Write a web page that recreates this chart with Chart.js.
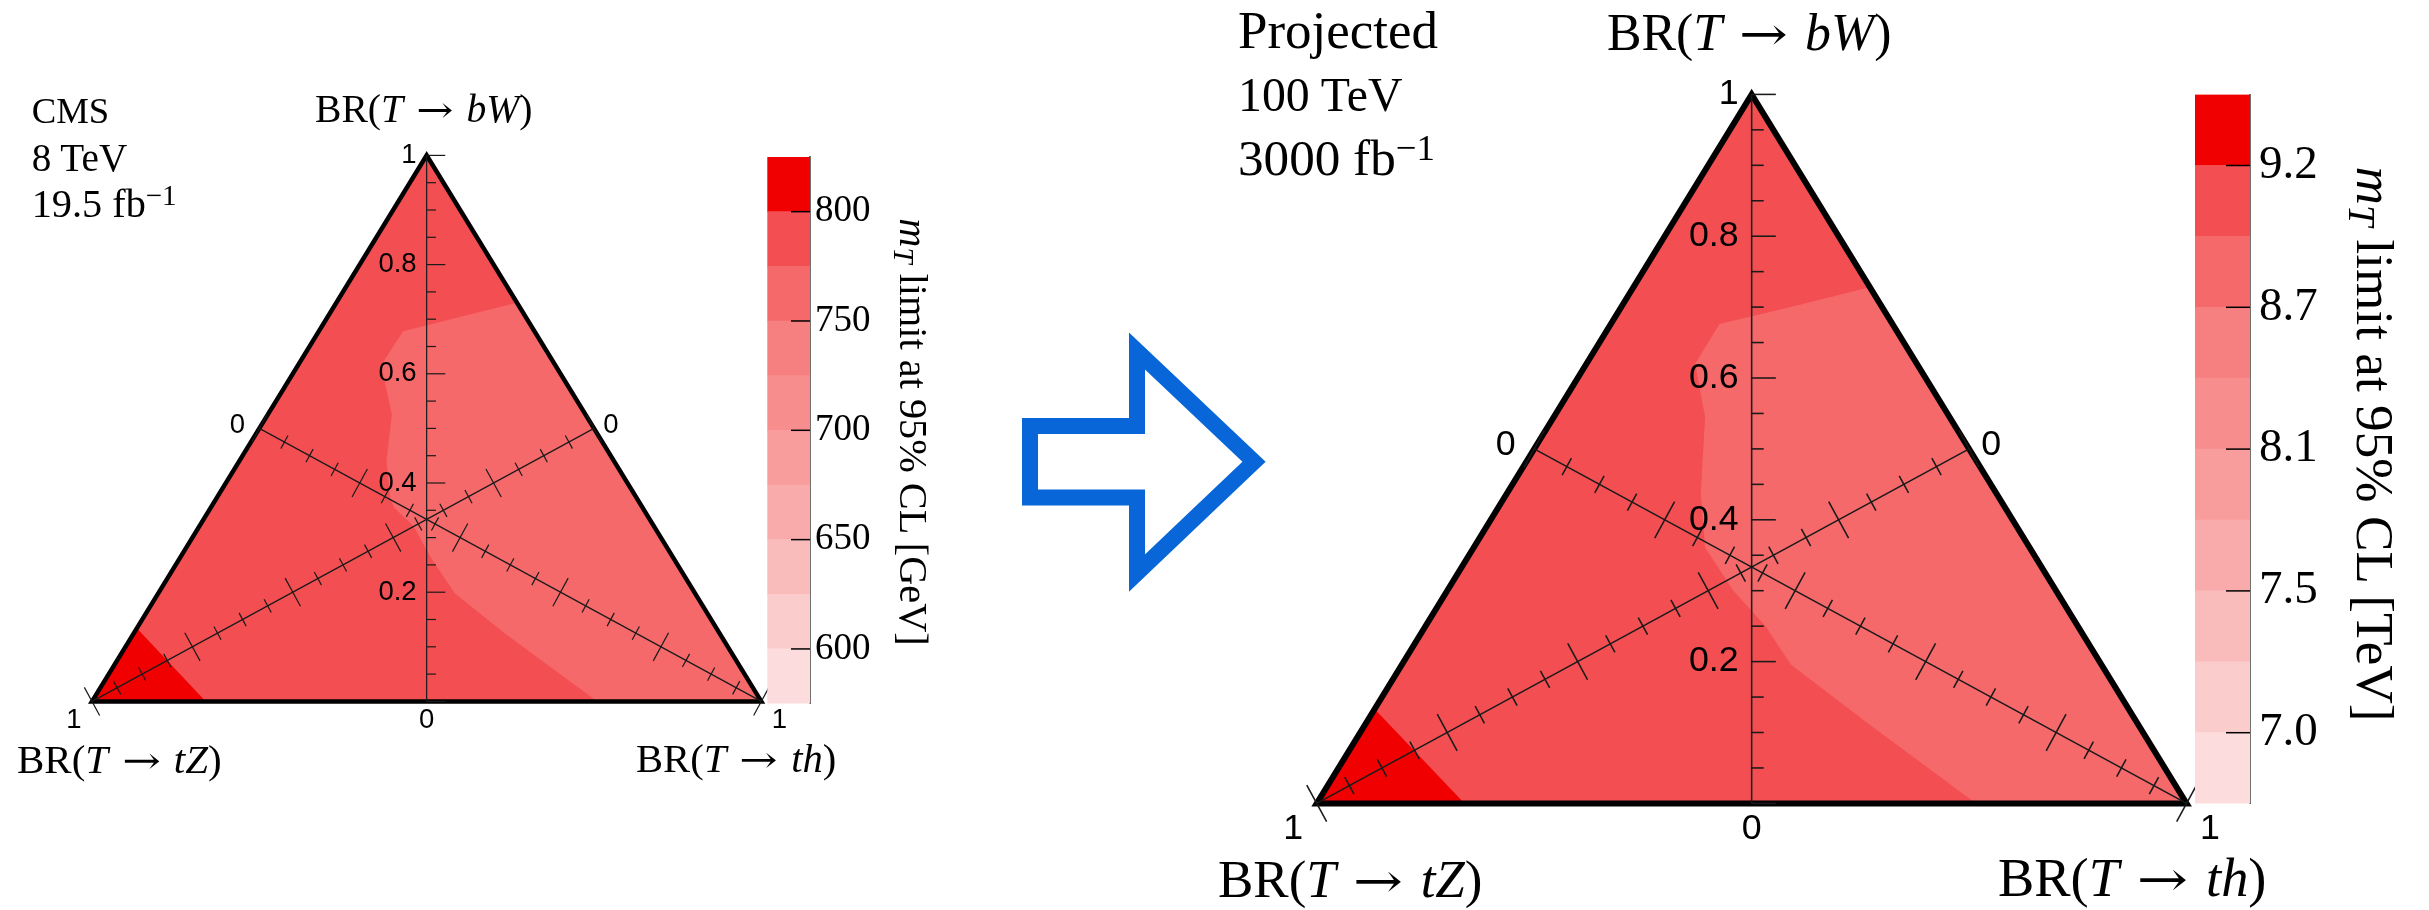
<!DOCTYPE html>
<html>
<head>
<meta charset="utf-8">
<script src="https://cdn.jsdelivr.net/npm/chart.js@4.4.1/dist/chart.umd.min.js"></script>
<style>
  html, body { margin: 0; padding: 0; background: #fff; }
  #stage { position: relative; width: 2429px; height: 910px; overflow: hidden; background: #fff; }
  #stage canvas { position: absolute; left: 0; top: 0; }
  .t { position: absolute; white-space: nowrap; line-height: 1; font-family: "Liberation Serif", "DejaVu Serif", serif; color: #000; }
  .sup { position: relative; top: -0.42em; font-size: 0.72em; }
  .sub { position: relative; top: 0.2em; font-size: 0.72em; }
  .ar { display: inline-block; width: 1.6em; text-align: center; }
  .ar span { display: inline-block; font-family: "DejaVu Serif", serif; font-size: 0.9em; transform: scaleX(1.25); }
  .rot { transform: translate(-50%, -50%) rotate(90deg); }
  svg { position: absolute; left: 0; top: 0; }
</style>
</head>
<body>
<div id="stage">
  <canvas id="tri8" width="2429" height="910"></canvas>
  <canvas id="bar8" width="2429" height="910"></canvas>
  <canvas id="tri100" width="2429" height="910"></canvas>
  <canvas id="bar100" width="2429" height="910"></canvas>
  <svg width="2429" height="910">
    <path d="M1030,426 L1137,426 L1137,351 L1254,461.7 L1137,573 L1137,497.5 L1030,497.5 Z"
          fill="none" stroke="#0866d8" stroke-width="16" stroke-linejoin="miter"/>
  </svg>
</div>
<script>
// Ternary points are [BR(T->bW), BR(T->tZ), BR(T->th)]
const triangleVertices = [[1, 0, 0], [0, 1, 0], [0, 0, 1]];

// Colour levels of the mass-limit contours, lowest to highest
const bandColors = ['#fcdcdc', '#fbcccc', '#fabbbb', '#f9abab', '#f89c9c',
                    '#f78d8d', '#f67f7f', '#f5696b', '#f34f52', '#f00000'];

// 8 TeV, 19.5 fb^-1 : colour scale in GeV
const bandEdges8 = [575, 600, 625, 650, 675, 700, 725, 750, 775, 800, 825];
const tickValues8 = [600, 650, 700, 750, 800];
const tickLabels8 = ['600', '650', '700', '750', '800'];
const plateauLevel8 = 8;                 // 775-800 GeV everywhere else
const band750Level8 = 7;                 // 750-775 GeV
const band750Region8 = [
  [0.730, 0.000, 0.270], [0.707, 0.088, 0.205], [0.678, 0.196, 0.126],
  [0.616, 0.260, 0.124], [0.526, 0.289, 0.185], [0.440, 0.340, 0.220],
  [0.370, 0.369, 0.261], [0.354, 0.371, 0.275], [0.321, 0.359, 0.320],
  [0.260, 0.362, 0.378], [0.198, 0.359, 0.443], [0.125, 0.321, 0.554],
  [0.059, 0.281, 0.660], [0.000, 0.245, 0.755], [0.000, 0.000, 1.000]
];
const band800Level8 = 9;                 // 800-825 GeV
const band800Region8 = [[0.000, 1.000, 0.000], [0.134, 0.866, 0.000], [0.000, 0.830, 0.170]];

// Projected 100 TeV, 3000 fb^-1 : colour scale in TeV (same contour levels)
const bandEdges100 = [575, 600, 625, 650, 675, 700, 725, 750, 775, 800, 825];
const tickValues100 = [600, 650, 700, 750, 800];
const tickLabels100 = ['7.0', '7.5', '8.1', '8.7', '9.2'];
const plateauLevel100 = 8;
const band2Level100 = 7;
const band2Region100 = [
  [0.728, 0.000, 0.272], [0.700, 0.105, 0.195], [0.676, 0.199, 0.125],
  [0.620, 0.255, 0.125], [0.545, 0.281, 0.174], [0.437, 0.340, 0.223],
  [0.361, 0.373, 0.266], [0.300, 0.371, 0.329], [0.250, 0.359, 0.391],
  [0.196, 0.357, 0.447], [0.113, 0.310, 0.577], [0.000, 0.242, 0.758],
  [0.000, 0.000, 1.000]
];
const topLevel100 = 9;
const topRegion100 = [[0.000, 1.000, 0.000], [0.133, 0.867, 0.000], [0.000, 0.830, 0.170]];

// Axis ticks drawn inside the triangle
const bWTickValues = [0.2, 0.4, 0.6, 0.8, 1];
const bWTickLabels = ['0.2', '0.4', '0.6', '0.8', '1'];

// ---------------------------------------------------------------------------
// projection: horizontal = BR(th) - BR(tZ), vertical = BR(bW)
function toXY(p) { return { x: p[2] - p[1], y: p[0] }; }
function closedPath(points) { const a = points.map(toXY); a.push(a[0]); return a; }

function regionDataset(points, level, order) {
  return {
    data: closedPath(points), showLine: true, fill: 'shape',
    backgroundColor: bandColors[level], borderColor: 'rgba(0,0,0,0)', borderWidth: 0,
    pointRadius: 0, order: order
  };
}

// Frame: BR(bW) axis, the two diagonal BR axes and their labels
const ternaryFrame = {
  id: 'ternaryFrame',
  afterDatasetsDraw(chart, args, opts) {
    const k = opts.k;
    const xs = chart.scales.x, ys = chart.scales.y;
    const px = (b) => [xs.getPixelForValue(b[2] - b[1]), ys.getPixelForValue(b[0])];
    const ctx = chart.ctx;
    const seg = (x1, y1, x2, y2) => { ctx.beginPath(); ctx.moveTo(x1, y1); ctx.lineTo(x2, y2); ctx.stroke(); };
    ctx.save();
    ctx.strokeStyle = '#1a1a1a';
    ctx.lineWidth = 1.2 * k;

    // vertical BR(bW) axis, ticks to the right
    const [x0, yBase] = px([0, 0.5, 0.5]);
    const [, yTop] = px([1, 0, 0]);
    seg(x0, yBase, x0, yTop);
    for (let i = 0; i <= 20; i++) {
      const y = ys.getPixelForValue(i / 20);
      const len = (i % 4 === 0 ? 18.6 : 9.3) * k;
      seg(x0, y, x0 + len, y);
    }

    // diagonal axes: BR(tZ) runs to the lower-left corner, BR(th) to the lower-right
    const diagonals = [
      { from: [0.5, 0, 0.5], to: [0, 1, 0] },
      { from: [0.5, 0.5, 0], to: [0, 0, 1] }
    ];
    for (const d of diagonals) {
      const [sx, sy] = px(d.from), [ex, ey] = px(d.to);
      seg(sx, sy, ex, ey);
      const L = Math.hypot(ex - sx, ey - sy);
      const nx = -(ey - sy) / L, ny = (ex - sx) / L;
      for (let i = 0; i <= 20; i++) {
        const qx = sx + (ex - sx) * i / 20, qy = sy + (ey - sy) * i / 20;
        const h = (i % 4 === 0 ? 16 : 7.5) * k;
        seg(qx - nx * h, qy - ny * h, qx + nx * h, qy + ny * h);
      }
    }

    // labels
    ctx.fillStyle = '#000';
    ctx.font = (27.5 * k) + 'px "Liberation Sans", Arial, sans-serif';
    ctx.textAlign = 'right';
    ctx.textBaseline = 'middle';
    bWTickValues.forEach((v, i) => {
      ctx.fillText(bWTickLabels[i], x0 - 10 * k, ys.getPixelForValue(v));
    });
    ctx.textAlign = 'center';
    const [lmx, lmy] = px([0.5, 0.5, 0]);
    const [rmx, rmy] = px([0.5, 0, 0.5]);
    const [blx, bly] = px([0, 1, 0]);
    const [brx, bry] = px([0, 0, 1]);
    ctx.fillText('0', lmx - 22 * k, lmy - 3 * k);
    ctx.fillText('0', rmx + 17 * k, rmy - 3 * k);
    ctx.fillText('0', x0, yBase + 19.5 * k);
    ctx.fillText('1', blx - 18 * k, bly + 19.5 * k);
    ctx.fillText('1', brx + 18 * k, bry + 19.5 * k);
    ctx.restore();
  }
};

function makeTernary(id, pad, k, outlineWidth, regions) {
  const outline = [[0, 0.5, 0.5], [0, 0, 1], [1, 0, 0], [0, 1, 0], [0, 0.5, 0.5]].map(toXY);
  const datasets = [{
    data: outline, showLine: true, fill: false, borderColor: '#000',
    borderWidth: outlineWidth, borderJoinStyle: 'miter', pointRadius: 0, clip: false, order: 0
  }];
  regions.forEach((r, i) => datasets.push(regionDataset(r.points, r.level, 10 * (i + 1))));
  return new Chart(document.getElementById(id), {
    type: 'scatter',
    data: { datasets },
    options: {
      responsive: false, animation: false, devicePixelRatio: 1, events: [],
      layout: { padding: pad },
      scales: {
        x: { type: 'linear', min: -1, max: 1, display: false },
        y: { type: 'linear', min: 0, max: 1, display: false }
      },
      plugins: { legend: { display: false }, tooltip: { enabled: false }, ternaryFrame: { k } }
    },
    plugins: [ternaryFrame]
  });
}

// Colour scale: one floating bar per contour level
const colorbarTicks = {
  id: 'colorbarTicks',
  afterDatasetsDraw(chart, args, opts) {
    const ys = chart.scales.y, right = chart.chartArea.right, ctx = chart.ctx;
    ctx.save();
    ctx.strokeStyle = '#000';
    ctx.lineWidth = 1.5;
    for (const v of opts.values) {
      const y = ys.getPixelForValue(v);
      ctx.beginPath(); ctx.moveTo(right - opts.len, y); ctx.lineTo(right, y); ctx.stroke();
    }
    ctx.restore();
  }
};

function makeColorbar(id, pad, edges, values, labels, fontSize, labelPad, tickLen, axisWidth) {
  const datasets = bandColors.map((c, i) => ({
    data: [[edges[i], edges[i + 1]]], backgroundColor: c, borderWidth: 0,
    borderSkipped: false, grouped: false, barPercentage: 1, categoryPercentage: 1
  }));
  return new Chart(document.getElementById(id), {
    type: 'bar',
    data: { labels: [''], datasets },
    options: {
      responsive: false, animation: false, devicePixelRatio: 1, events: [],
      layout: { padding: pad },
      scales: {
        x: { display: false },
        y: {
          position: 'right', min: edges[0], max: edges[edges.length - 1],
          afterBuildTicks: (s) => { s.ticks = values.map(v => ({ value: v })); },
          afterFit: (s) => { s.width = axisWidth; },
          grid: { display: false, drawTicks: false },
          border: { display: true, color: '#707070', width: 2 },
          ticks: {
            padding: labelPad, color: '#000',
            font: { family: '"Liberation Serif", serif', size: fontSize },
            callback: (v, i) => labels[i]
          }
        }
      },
      plugins: { legend: { display: false }, tooltip: { enabled: false }, colorbarTicks: { values, len: tickLen } }
    },
    plugins: [colorbarTicks]
  });
}

makeTernary('tri8', { left: 92, right: 2429 - 761.3, top: 155.4, bottom: 910 - 701.4 }, 1, 4.5, [
  { points: triangleVertices, level: plateauLevel8 },
  { points: band750Region8, level: band750Level8 },
  { points: band800Region8, level: band800Level8 }
].reverse());

makeTernary('tri100', { left: 1316.7, right: 2429 - 2186.6, top: 94.4, bottom: 910 - 803.4 }, 1.3, 6, [
  { points: triangleVertices, level: plateauLevel100 },
  { points: band2Region100, level: band2Level100 },
  { points: topRegion100, level: topLevel100 }
].reverse());

makeColorbar('bar8', { left: 767.3, right: 2429 - 810 - 80, top: 157, bottom: 910 - 703.6 },
  bandEdges8, tickValues8, tickLabels8, 37, 5, 19, 80);
makeColorbar('bar100', { left: 2195, right: 2429 - 2250 - 100, top: 94.6, bottom: 910 - 803.6 },
  bandEdges100, tickValues100, tickLabels100, 47, 9, 24, 100);

// ---------------------------------------------------------------------------
// Text labels (serif, math in italics). Placed by baseline; the font size is
// tuned so that each label spans the given width.
const stage = document.getElementById('stage');
function addText(html, x, baseline, width, align) {
  const d = document.createElement('div');
  d.className = 't';
  d.innerHTML = html;
  d.style.fontSize = '40px';
  stage.appendChild(d);
  const size = 40 * width / d.offsetWidth;
  d.style.fontSize = size + 'px';
  d.style.top = (baseline - 0.8375 * size) + 'px';
  d.style.left = (align === 'center' ? x - d.offsetWidth / 2 : x) + 'px';
}
function addRotated(html, cx, cy, length) {
  const d = document.createElement('div');
  d.className = 't rot';
  d.innerHTML = html;
  d.style.fontSize = '40px';
  stage.appendChild(d);
  d.style.fontSize = (40 * length / d.offsetWidth) + 'px';
  d.style.left = cx + 'px';
  d.style.top = cy + 'px';
}
const arrowTxt = '<span class="ar"><span>&#8594;</span></span>';
const brBW = 'BR(<i>T</i>' + arrowTxt + '<i>bW</i>)';
const brTZ = 'BR(<i>T</i>' + arrowTxt + '<i>tZ</i>)';
const brTH = 'BR(<i>T</i>' + arrowTxt + '<i>th</i>)';
const mTitle = (unit) => '<i>m</i><span class="sub"><i>T</i></span> limit at 95% CL [' + unit + ']';

addText('CMS', 31.7, 124, 78);
addText('8 TeV', 31.7, 171, 96);
addText('19.5 fb<span class="sup">&#8722;1</span>', 31.7, 218, 145);
addText(brBW, 424, 123, 218, 'center');
addText(brTZ, 17, 773, 205);
addText(brTH, 636, 773, 200);
addRotated(mTitle('GeV'), 913, 432, 427);

addText('Projected', 1238, 48, 200);
addText('100 TeV', 1238, 111.5, 165);
addText('3000 fb<span class="sup">&#8722;1</span>', 1238, 175, 197);
addText(brBW, 1749, 50, 285, 'center');
addText(brTZ, 1218, 897, 265);
addText(brTH, 1998, 897, 268);
addRotated(mTitle('TeV'), 2374, 444, 555);
</script>
</body>
</html>
